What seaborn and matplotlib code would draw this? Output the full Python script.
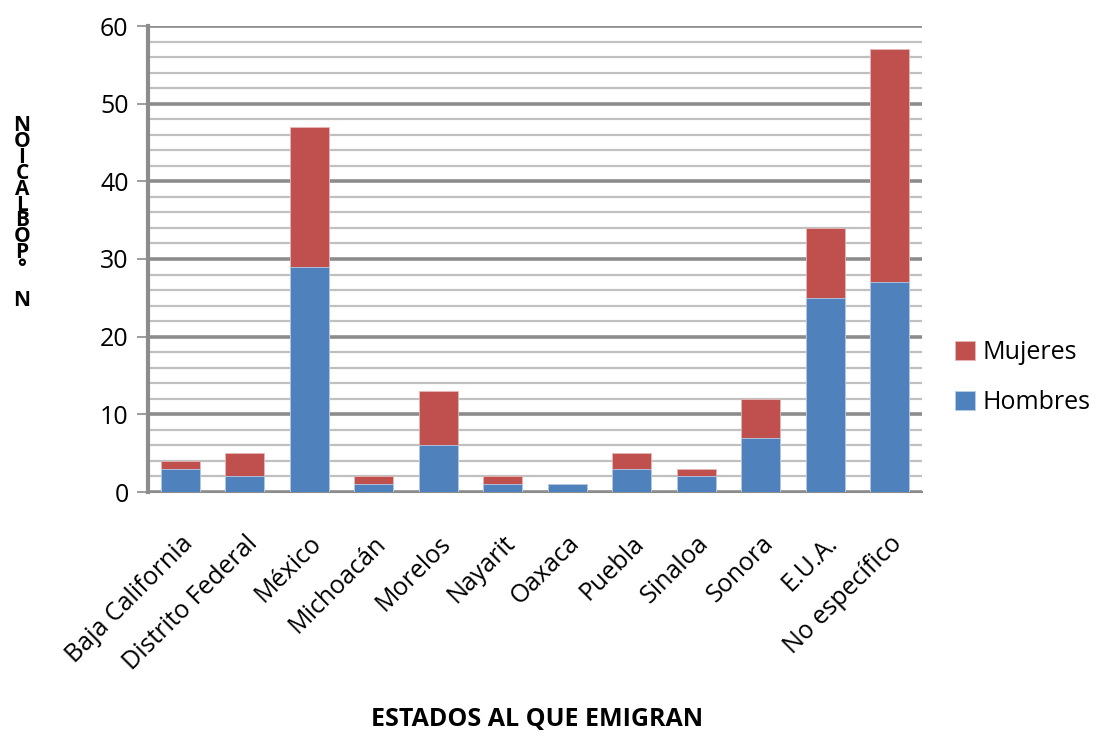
import matplotlib
matplotlib.use("Agg")
import matplotlib.pyplot as plt
import seaborn as sns
import pandas as pd
import numpy as np

estados = ["Baja California", "Distrito Federal", "México", "Michoacán", "Morelos",
           "Nayarit", "Oaxaca", "Puebla", "Sinaloa", "Sonora", "E.U.A.", "No específico"]
hombres = [3, 2, 29, 1, 6, 1, 1, 3, 2, 7, 25, 27]
mujeres = [1, 3, 18, 1, 7, 1, 0, 2, 1, 5, 9, 30]

df = pd.DataFrame({"estado": estados, "Hombres": hombres, "Mujeres": mujeres})
df["total"] = df["Hombres"] + df["Mujeres"]

sns.set_theme(style="white")
plt.rcParams["font.family"] = ["Open Sans", "DejaVu Sans"]
plt.rcParams["text.color"] = "black"
plt.rcParams["xtick.labelcolor"] = "black"
plt.rcParams["ytick.labelcolor"] = "black"

fig = plt.figure(figsize=(11.03, 7.36), dpi=100)
ax = fig.add_axes([148 / 1103, 1 - 492 / 736, (922 - 148) / 1103, (492 - 26) / 736])

azul = "#4F81BD"
rojo = "#C0504D"

# stacked bars: full height in red, men's share drawn over it in blue
sns.barplot(data=df, x="estado", y="total", color=rojo, width=0.6, saturation=1,
            ax=ax, edgecolor="#e6b8b7", linewidth=0.6, zorder=3, label="Mujeres")
sns.barplot(data=df, x="estado", y="Hombres", color=azul, width=0.6, saturation=1,
            ax=ax, edgecolor="#b9cde5", linewidth=0.6, zorder=4, label="Hombres")

ax.set_ylim(0, 60)
ax.set_xlim(-0.5, len(estados) - 0.5)
ax.set_yticks(np.arange(0, 61, 10))
ax.set_yticks(np.arange(0, 61, 2), minor=True)
ax.yaxis.grid(True, which="minor", color="#c0c0c0", linewidth=1.6, zorder=0)
ax.yaxis.grid(True, which="major", color="#8c8c8c", linewidth=2.6, zorder=1)
ax.set_axisbelow(True)

for s in ["top", "right"]:
    ax.spines[s].set_visible(False)
ax.spines["left"].set_color("#8c8c8c")
ax.spines["left"].set_linewidth(3)
ax.spines["bottom"].set_color("#8c8c8c")
ax.spines["bottom"].set_linewidth(1.5)

ax.tick_params(axis="y", which="major", length=8, width=1.2, color="#8c8c8c",
               labelsize=18, pad=6, left=True, labelcolor="black")
ax.tick_params(axis="y", which="minor", length=0)
ax.tick_params(axis="x", length=0, labelsize=18, pad=28, labelcolor="black")
ax.set_xticks(range(len(estados)))
ax.set_xticklabels(estados, rotation=45, ha="right", rotation_mode="anchor")

ax.set_xlabel("")
ax.set_ylabel("")
fig.text(537 / 1103, 1 - 720 / 736, "ESTADOS AL QUE EMIGRAN", ha="center", va="center",
         fontsize=18, fontweight="bold", color="black")

letras = ["N", "O", "I", "C", "A", "L", "B", "O", "P", "°", "", "N"]
fig.text(22 / 1103, 1 - 213 / 736, "\n".join(letras), ha="center", va="center",
         fontsize=15, fontweight="bold", linespacing=0.68, color="black")

handles, labels = ax.get_legend_handles_labels()
leg = ax.legend(handles, labels, loc="center left", bbox_to_anchor=(1.03, 0.245),
                borderaxespad=0, frameon=False, fontsize=18, handlelength=0.8,
                handleheight=0.8, handletextpad=0.3, labelspacing=1.0)
for t in leg.get_texts():
    t.set_color("black")

fig.savefig("out.png", dpi=100)
